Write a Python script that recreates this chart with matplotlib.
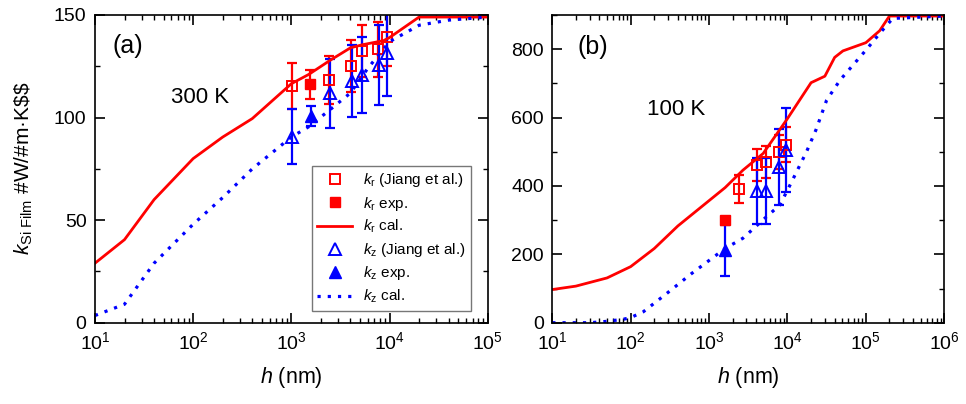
import matplotlib
matplotlib.use('Agg')
import matplotlib.pyplot as plt
from matplotlib.ticker import MultipleLocator, LogLocator, NullFormatter

plt.rcParams['font.family'] = ['Liberation Sans', 'DejaVu Sans']
plt.rcParams['mathtext.fontset'] = 'custom'
plt.rcParams['mathtext.rm'] = 'Liberation Sans'
plt.rcParams['mathtext.it'] = 'Liberation Sans:italic'
plt.rcParams['mathtext.bf'] = 'Liberation Sans:bold'

RED = '#ff0000'
BLUE = '#0000ff'

# ---- panel (a), 300 K ----
a_cal_r_h = [10, 20, 40, 100, 200, 400, 1000, 1500, 2500, 4000, 5300, 8700, 10000, 20000, 100000]
a_cal_r_k = [29, 40.5, 60, 80, 90.5, 99.5, 116.5, 121, 128, 134, 135.5, 137.5, 139, 149, 149]
a_cal_z_h = [10, 20, 40, 100, 200, 400, 1000, 1500, 2500, 4000, 6000, 10000, 20000, 40000, 100000]
a_cal_z_k = [3.5, 9, 29, 48, 61, 75, 90.5, 95.5, 104, 112, 124, 137, 145, 147.5, 149]

a_jr_h = [1020, 2400, 4060, 5200, 7700, 9400]
a_jr_k = [115.4, 118.3, 125.1, 132.5, 133.3, 139.4]
a_jr_e = [11.3, 11.7, 12.6, 12.6, 13.3, 14.3]
a_er_h = [1550]
a_er_k = [116.2]
a_er_e = [7.2]
a_jz_h = [1020, 2450, 4100, 5200, 7800, 9500]
a_jz_k = [90.7, 111.8, 117.8, 120.8, 125.6, 131.3]
a_jz_e = [13.5, 16.7, 17.5, 18.5, 19.5, 21]
a_ez_h = [1570]
a_ez_k = [100.8]
a_ez_e = [4.7]

# ---- panel (b), 100 K ----
b_cal_r_h = [10, 20, 50, 100, 200, 400, 1600, 2700, 4900, 10000, 20000, 30000, 40000, 51000,
             100000, 150000, 200000, 1000000]
b_cal_r_k = [97, 107, 131, 164, 217, 283, 395, 446, 495, 597, 702, 721, 776, 795,
             819, 854, 897, 897]
b_cal_z_h = [10, 30, 50, 80, 100, 145, 290, 600, 1600, 2700, 5400, 8000, 11300, 17500,
             23000, 31600, 47000, 100000, 150000, 220000, 1000000]
b_cal_z_k = [0, 0, 4, 10, 15, 32, 86, 144, 217, 247, 310, 344, 412, 500,
             563, 651, 710, 797, 846, 890, 897]

b_jr_h = [2400, 4100, 5300, 7800, 9500]
b_jr_k = [391, 461, 471, 500, 521]
b_jr_e = [40, 46, 47, 50, 52]
b_er_h = [1590]
b_er_k = [300]
b_er_e = [8]
b_jz_h = [4100, 5300, 7800, 9500]
b_jz_k = [385, 385, 456, 505]
b_jz_e = [96, 96, 112, 122]
b_ez_h = [1590]
b_ez_k = [212]
b_ez_e = [75]

labels = [r'$k_{\rm r}$ (Jiang et al.)', r'$k_{\rm r}$ exp.', r'$k_{\rm r}$ cal.',
          r'$k_{\rm z}$ (Jiang et al.)', r'$k_{\rm z}$ exp.', r'$k_{\rm z}$ cal.']

fig = plt.figure(figsize=(9.66, 4.04), dpi=100)
ax1 = fig.add_axes([0.0983, 0.2012, 0.4066, 0.7617])
ax2 = fig.add_axes([0.5717, 0.2012, 0.4058, 0.7617])


def draw(ax, d):
    (cr_h, cr_k, cz_h, cz_k, jr_h, jr_k, jr_e, er_h, er_k, er_e,
     jz_h, jz_k, jz_e, ez_h, ez_k, ez_e) = d
    ebk = dict(fmt='none', elinewidth=1.6, capsize=3.5, capthick=1.6)
    ax.errorbar(jr_h, jr_k, yerr=jr_e, ecolor=RED, **ebk)
    ax.errorbar(er_h, er_k, yerr=er_e, ecolor=RED, **ebk)
    ax.errorbar(jz_h, jz_k, yerr=jz_e, ecolor=BLUE, **ebk)
    ax.errorbar(ez_h, ez_k, yerr=ez_e, ecolor=BLUE, **ebk)
    h = []
    h += ax.plot(jr_h, jr_k, 's', ms=6.5, mfc='none', mec=RED, mew=1.4, label=labels[0])
    h += ax.plot(er_h, er_k, 's', ms=6.5, color=RED, label=labels[1])
    h += ax.plot(cr_h, cr_k, '-', color=RED, lw=2, label=labels[2])
    h += ax.plot(jz_h, jz_k, '^', ms=8, mfc='none', mec=BLUE, mew=1.4, label=labels[3])
    h += ax.plot(ez_h, ez_k, '^', ms=8, color=BLUE, label=labels[4])
    h += ax.plot(cz_h, cz_k, color=BLUE, lw=2.3, ls=(0, (1, 2.2)), label=labels[5])
    ax.set_xscale('log')
    ax.xaxis.set_major_locator(LogLocator(base=10, numticks=10))
    ax.xaxis.set_minor_locator(LogLocator(base=10, subs=range(2, 10), numticks=20))
    ax.xaxis.set_minor_formatter(NullFormatter())
    ax.tick_params(which='both', direction='in', top=True, right=True, labelsize=14)
    ax.tick_params(which='major', length=7, width=1.2, pad=6)
    ax.tick_params(which='minor', length=3.5, width=1.0)
    for s in ax.spines.values():
        s.set_linewidth(1.2)
    ax.set_xlabel(r'$h$ (nm)', fontsize=15.5, labelpad=9)
    return h


hs = draw(ax1, (a_cal_r_h, a_cal_r_k, a_cal_z_h, a_cal_z_k, a_jr_h, a_jr_k, a_jr_e,
                a_er_h, a_er_k, a_er_e, a_jz_h, a_jz_k, a_jz_e, a_ez_h, a_ez_k, a_ez_e))
ax1.set_xlim(10, 1e5)
ax1.set_ylim(0, 150)
ax1.yaxis.set_major_locator(MultipleLocator(50))
ax1.yaxis.set_minor_locator(MultipleLocator(25))
ax1.set_ylabel(r'$k_{\rm Si\ Film}$ #W/#m·K\$\$', fontsize=15, labelpad=14)
ax1.text(0.084, 0.899, '(a)', transform=ax1.transAxes, fontsize=18, ha='center', va='center')
ax1.text(0.267, 0.733, '300 K', transform=ax1.transAxes, fontsize=16, ha='center', va='center')
leg = ax1.legend(handles=hs, loc='lower right', bbox_to_anchor=(0.957, 0.039), borderaxespad=0,
                 fontsize=11, frameon=True, fancybox=False, handlelength=2.3, labelspacing=0.36,
                 handletextpad=0.7, borderpad=0.35)
leg.get_frame().set_edgecolor('#555555')
leg.get_frame().set_linewidth(1.0)

draw(ax2, (b_cal_r_h, b_cal_r_k, b_cal_z_h, b_cal_z_k, b_jr_h, b_jr_k, b_jr_e,
           b_er_h, b_er_k, b_er_e, b_jz_h, b_jz_k, b_jz_e, b_ez_h, b_ez_k, b_ez_e))
ax2.set_xlim(10, 1e6)
ax2.set_ylim(0, 900)
ax2.yaxis.set_major_locator(MultipleLocator(200))
ax2.yaxis.set_minor_locator(MultipleLocator(100))
ax2.text(0.104, 0.896, '(b)', transform=ax2.transAxes, fontsize=18, ha='center', va='center')
ax2.text(0.316, 0.694, '100 K', transform=ax2.transAxes, fontsize=16, ha='center', va='center')

fig.savefig('out.png', dpi=100)
